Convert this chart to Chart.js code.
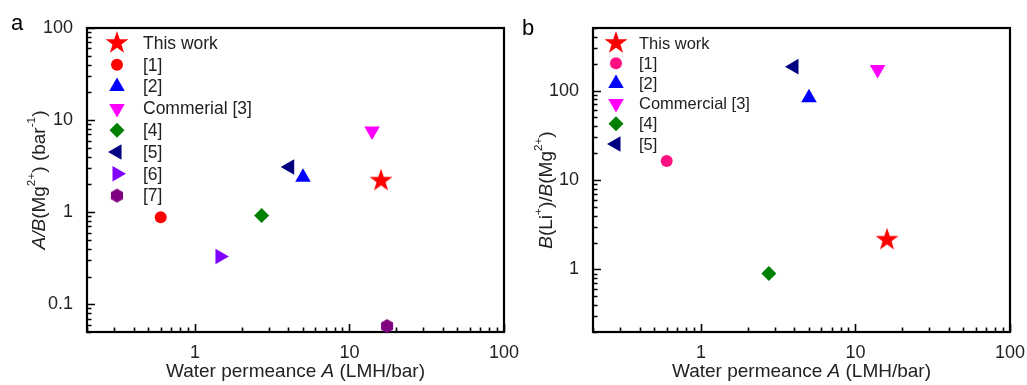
<!DOCTYPE html>
<html>
<head>
<meta charset="utf-8">
<script src="https://cdn.jsdelivr.net/npm/chart.js@4/dist/chart.umd.min.js"></script>
<style>
  html, body { margin: 0; padding: 0; background: #fff; overflow: hidden; }
  #wrapA { position: absolute; left: 0; top: 0; width: 540px; height: 385px; }
  #wrapB { position: absolute; left: 512px; top: 0; width: 515px; height: 385px; }
</style>
</head>
<body>
<div id="wrapA"><canvas id="chartA"></canvas></div>
<div id="wrapB"><canvas id="chartB"></canvas></div>
<script>
// ---- data (panel a) ----
const namesA = ["This work", "[1]", "[2]", "Commerial [3]", "[4]", "[5]", "[6]", "[7]"];
const permA  = [16, 0.6, 5.0, 14, 2.7, 4.1, 1.45, 17.5];
const ratioA = [2.2, 0.88, 2.4, 7.6, 0.92, 3.1, 0.33, 0.058];

// ---- data (panel b) ----
const namesB = ["This work", "[1]", "[2]", "Commercial [3]", "[4]", "[5]"];
const permB  = [16, 0.6, 5.0, 13.9, 2.75, 4.0];
const selB   = [2.15, 16.3, 83, 172, 0.9, 185];

// tick labels
const xTicks  = [1, 10, 100];
const yTicksA = [0.1, 1, 10, 100];
const yTicksB = [1, 10, 100];

const FONT = '"Liberation Sans", Arial, sans-serif';

// marker shapes / colours
const shapesA = ["star", "circle", "up", "down", "diamond", "left", "right", "hex"];
const colorsA = ["#ff0000", "#ff0000", "#0000ff", "#ff00ff", "#008000", "#000080", "#8000ff", "#800080"];
const shapesB = ["star", "circle", "up", "down", "diamond", "left"];
const colorsB = ["#ff0000", "#ff1080", "#0000ff", "#ff00ff", "#008000", "#000080"];

function polyImg(color, R, n, inner) {
  const c = document.createElement("canvas");
  const s = Math.ceil(2 * R + 2);
  c.width = s; c.height = s;
  const g = c.getContext("2d");
  g.fillStyle = color;
  g.beginPath();
  const steps = inner ? n * 2 : n;
  for (let i = 0; i < steps; i++) {
    const r = inner && i % 2 ? inner : R;
    const a = -Math.PI / 2 + i * 2 * Math.PI / steps;
    g.lineTo(s / 2 + r * Math.cos(a), s / 2 + r * Math.sin(a));
  }
  g.closePath();
  g.fill();
  return c;
}

function marker(shape, color) {
  switch (shape) {
    case "star":    return { style: polyImg(color, 12, 5, 4.7), radius: 12, rot: 0 };
    case "hex":     return { style: polyImg(color, 7, 6), radius: 7, rot: 0 };
    case "circle":  return { style: "circle", radius: 6, rot: 0 };
    case "diamond": return { style: "rectRot", radius: 7.5, rot: 0 };
    case "up":      return { style: "triangle", radius: 9, rot: 0 };
    case "down":    return { style: "triangle", radius: 9, rot: 180 };
    case "left":    return { style: "triangle", radius: 9, rot: -90 };
    case "right":   return { style: "triangle", radius: 9, rot: 90 };
  }
}

function logMarks(min, max) {
  const out = [];
  for (let e = Math.floor(Math.log10(min)); e <= Math.ceil(Math.log10(max)); e++) {
    for (let m = 1; m < 10; m++) {
      const v = m * Math.pow(10, e);
      if (v >= min * 0.999 && v <= max * 1.001) out.push({ v: v, major: m === 1 });
    }
  }
  return out;
}

// text with italic parts and superscripts
function richText(ctx, parts, size, cx, cy, rotate) {
  const fontOf = (p) => (p.i ? "italic " : "") + (p.sup ? size * 0.62 : size) + "px " + FONT;
  let total = 0;
  parts.forEach(p => { ctx.font = fontOf(p); total += ctx.measureText(p.t).width; });
  ctx.save();
  ctx.translate(cx, cy);
  if (rotate) ctx.rotate(-Math.PI / 2);
  ctx.fillStyle = "#222";
  ctx.textBaseline = "middle";
  ctx.textAlign = "left";
  let x = -total / 2;
  parts.forEach(p => {
    ctx.font = fontOf(p);
    ctx.fillText(p.t, x, p.sup ? -size * 0.42 : 0);
    x += ctx.measureText(p.t).width;
  });
  ctx.restore();
}

const framePlugin = {
  id: "frame",
  beforeDatasetsDraw(chart, args, opts) {
    const ctx = chart.ctx;
    const a = chart.chartArea;
    const xs = chart.scales.x, ys = chart.scales.y;
    ctx.save();
    ctx.strokeStyle = "#000";
    ctx.lineWidth = 1.6;
    ctx.beginPath();
    logMarks(xs.min, xs.max).forEach(t => {
      const px = Math.round(xs.getPixelForValue(t.v)) + 0.5;
      ctx.moveTo(px, a.bottom);
      ctx.lineTo(px, a.bottom - (t.major ? 8 : 4.5));
    });
    logMarks(ys.min, ys.max).forEach(t => {
      const py = Math.round(ys.getPixelForValue(t.v)) + 0.5;
      ctx.moveTo(a.left, py);
      ctx.lineTo(a.left + (t.major ? 8 : 4.5), py);
    });
    ctx.stroke();
    ctx.lineWidth = 2.2;
    ctx.strokeRect(a.left, a.top, a.right - a.left, a.bottom - a.top);
    ctx.restore();
  },
  afterDraw(chart, args, opts) {
    const ctx = chart.ctx;
    const a = chart.chartArea;
    // legend
    ctx.save();
    chart.data.datasets.forEach((ds, i) => {
      const y = opts.legY + i * opts.legStep;
      ctx.fillStyle = ds.backgroundColor;
      Chart.helpers.drawPoint(ctx, {
        pointStyle: ds.pointStyle, radius: ds.pointRadius,
        rotation: ds.pointRotation, borderWidth: 0
      }, opts.legX, y);
      ctx.fillStyle = "#222";
      ctx.font = opts.legFont + "px " + FONT;
      ctx.textBaseline = "middle";
      ctx.textAlign = "left";
      ctx.fillText(ds.label, opts.legTextX, y + 1);
    });
    ctx.restore();
    // axis titles
    richText(ctx, [{ t: "Water permeance " }, { t: "A", i: true }, { t: " (LMH/bar)" }],
      19, (a.left + a.right) / 2, 372, false);
    richText(ctx, opts.yTitle, 19, opts.yTitleX, opts.yTitleY, true);
    // panel letter
    ctx.save();
    ctx.fillStyle = "#000";
    ctx.font = "22px " + FONT;
    ctx.textBaseline = "alphabetic";
    ctx.fillText(opts.letter, opts.letterX, opts.letterY);
    ctx.restore();
  }
};

function buildChart(id, names, xs, ys, shapes, colors, yMin, yMax, yTicks, yWidth, padRight, extra) {
  const datasets = names.map((n, i) => {
    const m = marker(shapes[i], colors[i]);
    return {
      label: n,
      data: [{ x: xs[i], y: ys[i] }],
      pointStyle: m.style,
      pointRadius: m.radius,
      pointHoverRadius: m.radius,
      pointRotation: m.rot,
      pointBorderWidth: 0,
      backgroundColor: colors[i],
      borderColor: colors[i],
      clip: false
    };
  });
  return new Chart(document.getElementById(id), {
    type: "scatter",
    data: { datasets: datasets },
    plugins: [framePlugin],
    options: {
      responsive: true,
      maintainAspectRatio: false,
      animation: false,
      layout: { padding: { top: 28, right: padRight, left: 0, bottom: 0 } },
      plugins: { legend: { display: false }, tooltip: { enabled: false }, frame: extra },
      scales: {
        x: {
          type: "logarithmic", min: 0.2, max: 100,
          grid: { display: false }, border: { display: false },
          afterBuildTicks: s => { s.ticks = xTicks.map(v => ({ value: v })); },
          afterFit: s => { s.height = 53; s.paddingLeft = 0; s.paddingRight = 0; },
          ticks: {
            autoSkip: false, maxRotation: 0, padding: 2, color: "#222",
            font: { family: FONT, size: 18 },
            callback: v => String(v)
          }
        },
        y: {
          type: "logarithmic", min: yMin, max: yMax,
          grid: { display: false }, border: { display: false },
          afterBuildTicks: s => { s.ticks = yTicks.map(v => ({ value: v })); },
          afterFit: s => { s.width = yWidth; s.paddingTop = 0; s.paddingBottom = 0; },
          ticks: {
            autoSkip: false, padding: 6, color: "#222",
            font: { family: FONT, size: 18 },
            callback: v => String(v)
          }
        }
      }
    }
  });
}

buildChart("chartA", namesA, permA, ratioA, shapesA, colorsA, 0.05, 100, yTicksA, 87, 36, {
  legX: 117, legTextX: 143, legY: 43, legStep: 21.8, legFont: 17.5,
  yTitle: [{ t: "A/B", i: true }, { t: "(Mg" }, { t: "2+", sup: true }, { t: ") (bar" }, { t: "-1", sup: true }, { t: ")" }],
  yTitleX: 40, yTitleY: 180,
  letter: "a", letterX: 11, letterY: 30
});

buildChart("chartB", namesB, permB, selB, shapesB, colorsB, 0.2, 500, yTicksB, 81, 17, {
  legX: 104, legTextX: 127, legY: 43, legStep: 20.2, legFont: 16.5,
  yTitle: [{ t: "B", i: true }, { t: "(Li" }, { t: "+", sup: true }, { t: ")/" }, { t: "B", i: true }, { t: "(Mg" }, { t: "2+", sup: true }, { t: ")" }],
  yTitleX: 35, yTitleY: 190,
  letter: "b", letterX: 10, letterY: 35
});
</script>
</body>
</html>
